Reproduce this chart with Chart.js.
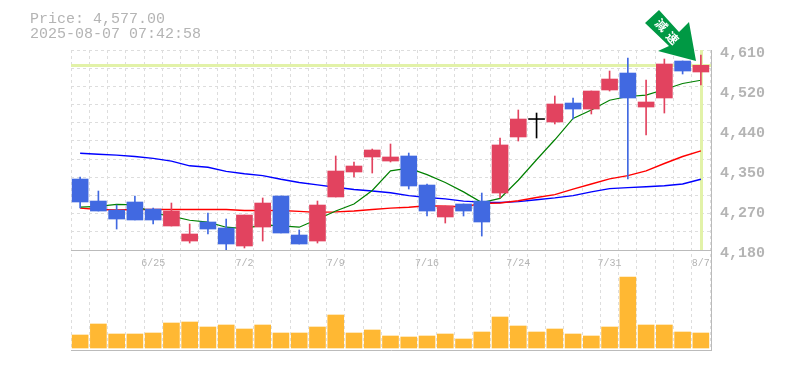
<!DOCTYPE html>
<html>
<head>
<meta charset="utf-8">
<style>
html, body { margin: 0; padding: 0; background: #fff; }
#wrap { position: relative; width: 785px; height: 370px; }
</style>
<script src="https://cdn.jsdelivr.net/npm/chart.js@4/dist/chart.umd.js"></script>
</head>
<body>
<div id="wrap"><canvas id="chart" width="785" height="370"></canvas></div>
<script>
const dates = ['6/19','6/20','6/23','6/24','6/25','6/26','6/27','6/30','7/1','7/2','7/3','7/4','7/7','7/8','7/9','7/10','7/11','7/14','7/15','7/16','7/17','7/18','7/22','7/23','7/24','7/25','7/28','7/29','7/30','7/31','8/1','8/4','8/5','8/6','8/7'];
const shownDates = ['6/25','7/2','7/9','7/16','7/24','7/31','8/7'];

const open  = [4332.6,4285.3,4266,4283.2,4268.1,4231.6,4199.3,4240.2,4227.3,4188.6,4229.4,4296.1,4212.2,4199.3,4294,4347.7,4380,4371.3,4382.1,4319.7,4251,4278.9,4285.3,4302.5,4423,4461.6,4455.2,4496,4483.1,4524,4560.5,4487.4,4506.8,4586.3,4562.7];
const close = [4283.2,4263.8,4246.6,4244.5,4244.5,4263.8,4214.4,4225.1,4192.9,4255.2,4281,4216.5,4192.9,4276.7,4349.8,4360.6,4395,4380,4317.6,4263.8,4274.6,4263.8,4240.2,4405.8,4461.6,4461.6,4493.9,4483.1,4521.8,4547.6,4506.8,4498.2,4579.9,4564.8,4577];
const high  = [4337,4306.8,4276.7,4296.1,4270.3,4281,4235.9,4259.5,4246.6,4255.2,4291.8,4296.1,4223,4285.3,4382.1,4369.2,4397.1,4407.9,4388.5,4321.9,4274.6,4278.9,4302.5,4420.8,4481,4474.5,4511.1,4506.8,4521.8,4564.8,4592.8,4545.5,4590.6,4586.3,4599.2];
const low   = [4270.3,4263.8,4225.1,4244.5,4235.9,4231.6,4195,4214.4,4180,4184.3,4199.3,4216.5,4192.9,4195,4294,4337,4345.5,4369.2,4311.1,4253.1,4238,4253.1,4210,4291.8,4414.3,4420.8,4450.9,4461.6,4472.4,4521.8,4332.6,4427.2,4474.5,4558.4,4534.8];

const maShort = [4272,4274,4278,4277,4259,4253,4244,4240,4229,4226,4234,4232,4229,4246,4264,4279,4308,4350,4356,4342,4325,4305,4282,4291,4330,4374,4417,4463,4481,4502,4510,4513,4525,4538,4545];
const maMid   = [4270,4267,4266,4267,4267,4267,4267,4267,4267,4265,4265,4265,4263,4261,4262,4264,4267,4270,4272,4275,4274,4273,4280,4281,4286,4293,4299,4311,4322,4333,4340,4350,4366,4381,4393];
const maLong  = [4388,4386,4384,4381,4377,4371,4361,4358,4349,4344,4340,4332,4325,4320,4315,4310,4307,4303,4297,4293,4290,4285,4283,4282,4284,4288,4292,4297,4305,4312,4314,4316,4318,4322,4332];

const volume = [130,240,140,140,150,250,260,210,230,190,230,150,150,210,330,150,180,120,110,120,140,90,160,310,220,160,190,140,120,210,710,230,230,160,150];

const priceLabels = [4610,4520,4440,4350,4270,4180];
const priceTicks  = [4610,4524,4438,4352,4266,4180];
const currentPrice = 4577;
const title = ['Price: 4,577.00','2025-08-07 07:42:58'];
const badge = '減速';

const RED = '#e2435f', BLUE = '#4169e1', GRAY = '#bbbbbb', GRID = '#dddddd', MARK = '#e2f2a8';
const FONT = '"Liberation Mono", monospace';

function bodyColor(i) {
  if (open[i] === close[i] || Math.abs(open[i] - close[i]) < 0.01) return '#000000';
  return close[i] > open[i] ? RED : BLUE;
}

// current price cross sits behind the candles, the arrow and title on top
const overlay = {
  id: 'overlay',
  beforeDatasetsDraw(chart) {
    const { ctx, chartArea: a, scales } = chart;
    const y = scales.y.getPixelForValue(currentPrice);
    const x = scales.x.getPixelForValue(dates.length - 1);
    ctx.save();
    ctx.fillStyle = MARK;
    ctx.fillRect(a.left, Math.round(y) - 1, a.right - a.left + 1, 3);
    ctx.fillRect(Math.round(x) - 1, a.top, 3, scales.y.bottom - a.top);
    ctx.restore();
  },
  afterDraw(chart) {
    const { ctx, chartArea: a, scales } = chart;
    ctx.save();
    // frame
    ctx.strokeStyle = GRAY;
    ctx.lineWidth = 1;
    ctx.beginPath();
    ctx.moveTo(a.left, Math.round(scales.y.bottom) + 0.5);
    ctx.lineTo(a.right + 2, Math.round(scales.y.bottom) + 0.5);
    ctx.moveTo(a.left, Math.round(a.bottom) + 0.5);
    ctx.lineTo(a.right + 2, Math.round(a.bottom) + 0.5);
    ctx.moveTo(a.right + 1.5, a.top);
    ctx.lineTo(a.right + 1.5, a.bottom);
    ctx.stroke();
    // title
    ctx.fillStyle = '#b4b4b4';
    ctx.font = '15px ' + FONT;
    ctx.textBaseline = 'alphabetic';
    ctx.fillText(title[0], 30, 23);
    ctx.fillText(title[1], 30, 38);
    // arrow
    ctx.fillStyle = '#009944';
    ctx.beginPath();
    [[659, 10], [645, 23], [669, 46], [658, 51], [696, 61], [689, 22], [679, 32]].forEach(([px, py], i) => {
      if (i === 0) ctx.moveTo(px, py); else ctx.lineTo(px, py);
    });
    ctx.closePath();
    ctx.fill();
    ctx.fillStyle = '#ffffff';
    ctx.font = 'bold 12px "Noto Sans CJK JP"';
    ctx.textAlign = 'center';
    ctx.textBaseline = 'middle';
    ctx.translate(661.5, 25);
    ctx.rotate(Math.PI / 4);
    ctx.fillText(badge[0], 0, 0);
    ctx.rotate(-Math.PI / 4);
    ctx.translate(11, 13);
    ctx.rotate(Math.PI / 4);
    ctx.fillText(badge[1], 0, 0);
    ctx.restore();
  }
};

new Chart(document.getElementById('chart'), {
  data: {
    labels: dates,
    datasets: [
      { type: 'bar', label: 'Body', yAxisID: 'y', data: dates.map((d, i) => open[i] === close[i] ? [close[i] - 1, close[i] + 1] : [open[i], close[i]]), backgroundColor: dates.map((d, i) => bodyColor(i)), barThickness: 16, order: 1 },
      { type: 'bar', label: 'Wick', yAxisID: 'y', data: dates.map((d, i) => [low[i], high[i]]), backgroundColor: dates.map((d, i) => bodyColor(i)), barThickness: 1, order: 2 },
      { type: 'line', label: 'MA short', yAxisID: 'y', data: maShort, borderColor: '#008000', borderWidth: 1.2, pointRadius: 0, tension: 0, order: 3 },
      { type: 'line', label: 'MA mid', yAxisID: 'y', data: maMid, borderColor: '#ff0000', borderWidth: 1.4, pointRadius: 0, tension: 0, order: 4 },
      { type: 'line', label: 'MA long', yAxisID: 'y', data: maLong, borderColor: '#0000ff', borderWidth: 1.4, pointRadius: 0, tension: 0, order: 5 },
      { type: 'bar', label: 'Volume', yAxisID: 'yVol', data: volume, backgroundColor: '#ffb833', barThickness: 16, order: 6 }
    ]
  },
  options: {
    responsive: false,
    animation: false,
    devicePixelRatio: 1,
    layout: { padding: { top: 50, right: 75, bottom: 20, left: 71 } },
    plugins: { legend: { display: false }, tooltip: { enabled: false }, title: { display: false } },
    datasets: { bar: { grouped: false } },
    scales: {
      x: {
        type: 'category',
        offset: true,
        border: { display: false, dash: [3, 3] },
        grid: { color: GRID, tickLength: 0, lineWidth: 1 },
        ticks: { display: false }
      },
      yVol: {
        position: 'left',
        stack: 'panels',
        stackWeight: 1,
        min: -20,
        max: 980,
        border: { display: false },
        grid: { drawOnChartArea: false, drawTicks: false },
        ticks: { display: false }
      },
      y: {
        position: 'left',
        stack: 'panels',
        stackWeight: 2,
        min: 4180,
        max: 4610,
        border: { display: false, dash: [3, 3] },
        grid: { color: GRID, tickLength: 0 },
        afterBuildTicks(axis) {
          axis.ticks = Array.from({ length: 12 }, (_, i) => ({ value: 4180 + i * 430 / 11 }));
        },
        ticks: { display: false }
      }
    }
  },
  plugins: [overlay, {
    id: 'axisText',
    afterDraw(chart) {
      const { ctx, scales } = chart;
      ctx.save();
      ctx.fillStyle = '#b4b4b4';
      // price labels go through the price scale
      ctx.font = 'bold 15px ' + FONT;
      ctx.textAlign = 'left';
      ctx.textBaseline = 'middle';
      priceTicks.forEach((v, i) => {
        ctx.fillText(priceLabels[i].toLocaleString('en-US'), 720, scales.y.getPixelForValue(v) + 3);
      });
      // date labels
      ctx.font = '10px ' + FONT;
      ctx.textAlign = 'center';
      ctx.textBaseline = 'alphabetic';
      shownDates.forEach(d => {
        ctx.fillText(d, scales.x.getPixelForValue(dates.indexOf(d)), 266);
      });
      ctx.restore();
    }
  }]
});
</script>
</body>
</html>
